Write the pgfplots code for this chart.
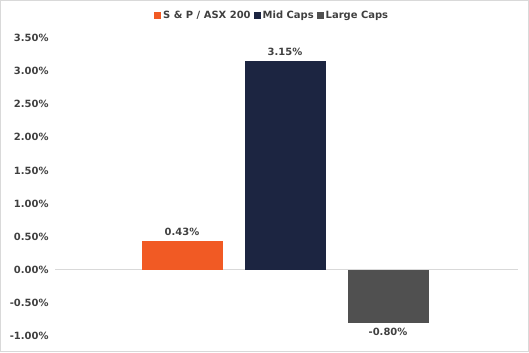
\documentclass[border=0pt]{standalone}
\usepackage{pgfplots}
\pgfplotsset{compat=1.18}
\usepackage{fontspec}
\setmainfont{DejaVu Sans}
\definecolor{sporange}{HTML}{F15A24}
\definecolor{midnavy}{HTML}{1C2541}
\definecolor{largegray}{HTML}{505050}
\definecolor{txt}{HTML}{404040}
\begin{document}
\begin{tikzpicture}[x=1bp,y=1bp]
\useasboundingbox (0,0) rectangle (529,352);
\draw[color=black!15, line width=1bp] (0.5,0.5) rectangle (528.5,351.5);
\begin{axis}[
  at={(55bp,16bp)}, anchor=south west,
  width=463bp, height=298bp, scale only axis,
  xmin=-1.233, xmax=3.262, ymin=-1, ymax=3.5,
  axis line style={draw=none},
  major tick length=0pt,
  xtick=\empty,
  ytick={-1,-0.5,0,0.5,1,1.5,2,2.5,3,3.5},
  /pgf/number format/assume math mode=true,
  yticklabel={\pgfmathprintnumber[fixed,fixed zerofill,precision=2]{\tick}\%},
  yticklabel style={font=\bfseries\fontsize{10}{12}\selectfont, text=txt, xshift=-3bp},
  extra y ticks={0},
  extra y tick labels={},
  extra y tick style={grid=major, major grid style={draw=black!15, line width=1.2bp}},
  ybar, bar width=81bp, bar shift=0pt,
  nodes near coords={\pgfmathprintnumber[fixed,fixed zerofill,precision=2,assume math mode=true]{\pgfplotspointmeta}\%},
  nodes near coords style={font=\bfseries\fontsize{10}{12}\selectfont, text=txt, inner sep=5bp},
  legend columns=3,
  legend style={at={(0.469,1.077)}, anchor=center, draw=none, fill=none,
    font=\bfseries\fontsize{10}{12}\selectfont, text=txt,
    /tikz/every even column/.append style={column sep=1bp},
    inner sep=0pt},
  legend image code/.code={\fill[#1, draw=none] (0bp,-3.5bp) rectangle (7bp,3.5bp);},
  clip=false,
]
\addplot[fill=sporange, draw=none] coordinates {(0,0.43)};
\addplot[fill=midnavy, draw=none] coordinates {(1,3.15)};
\addplot[fill=largegray, draw=none] coordinates {(2,-0.80)};
\legend{S \& P / ASX 200, Mid Caps, Large Caps}
\end{axis}
\end{tikzpicture}
\end{document}
